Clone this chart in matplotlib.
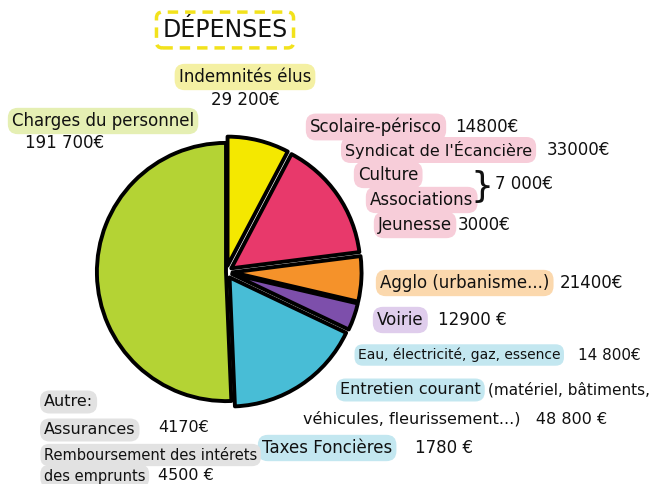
import matplotlib
matplotlib.use("Agg")
import matplotlib.pyplot as plt

# ---- data ----
slice_names = ["Indemnités élus", "Scolaire, Syndicat, Culture, Jeunesse", "Agglo", "Voirie",
               "Eau, Entretien, Taxes", "Charges du personnel"]
slice_values = [29200, 14800 + 33000 + 7000 + 3000, 21400, 12900, 14800 + 48800 + 1780, 191700]
slice_colors = ["#f4e800", "#e8396b", "#f5922a", "#7d4fab", "#48bdd6", "#b4d334"]
slice_explode = [0.05, 0.05, 0.05, 0.05, 0.05, 0.0]

W, H = 656, 484
fig = plt.figure(figsize=(W / 100, H / 100), dpi=100)
fig.patch.set_facecolor("white")

# pie axes
cx, cy, half = 226, 272, 142
ax = fig.add_axes([(cx - half) / W, (H - cy - half) / H, 2 * half / W, 2 * half / H])
ax.pie(slice_values, colors=slice_colors, startangle=90, counterclock=False,
       explode=slice_explode,
       wedgeprops=dict(edgecolor="black", linewidth=2.8, joinstyle="round"))
ax.set_xlim(-1.1, 1.1)
ax.set_ylim(-1.1, 1.1)
ax.set_aspect("equal")
ax.axis("off")

FONT = "DejaVu Sans"


def T(x, y, s, bg=None, size=12, ha="left", **kw):
    bbox = None
    if bg is not None:
        bbox = dict(boxstyle="round,pad=0.25,rounding_size=0.6", fc=bg, ec="none")
    fig.text(x / W, 1 - y / H, s, ha=ha, va="center", fontsize=size, family=FONT,
             color="#111111", bbox=bbox, **kw)


# title with dashed yellow box
fig.text(225 / W, 1 - 30 / H, "DÉPENSES", ha="center", va="center", fontsize=17,
         family=FONT, color="#111111",
         bbox=dict(boxstyle="round,pad=0.25", fc="white", ec="#f2e21c", lw=2.5, ls=(0, (3, 2))))

GREEN_BG = "#e5efb3"
YELLOW_BG = "#f4f0a3"
PINK_BG = "#f7cdd9"
ORANGE_BG = "#fbd8ad"
PURPLE_BG = "#dfcdec"
CYAN_BG = "#c3e7f0"
GREY_BG = "#e2e2e2"

T(245, 77, "Indemnités élus", YELLOW_BG, ha="center")
T(245, 100, "29 200€", ha="center")

T(12, 121, "Charges du personnel", GREEN_BG)
T(25, 143, "191 700€")

T(310, 127, "Scolaire-périsco", PINK_BG)
T(455, 127, "14800€")
T(345, 150, "Syndicat de l'Écancière", PINK_BG, size=11.5)
T(547, 150, "33000€")
T(358, 175, "Culture", PINK_BG)
T(370, 200, "Associations", PINK_BG)
T(470, 187, "}", size=26)
T(495, 184, "7 000€")
T(378, 225, "Jeunesse", PINK_BG)
T(458, 225, "3000€")

T(380, 283, "Agglo (urbanisme...)", ORANGE_BG)
T(560, 283, "21400€")

T(377, 320, "Voirie", PURPLE_BG)
T(438, 320, "12900 €")

T(358, 355, "Eau, électricité, gaz, essence", CYAN_BG, size=10)
T(578, 355, "14 800€", size=11)
T(340, 390, "Entretien courant", CYAN_BG, size=11.5)
T(488, 390, "(matériel, bâtiments,", size=11)
T(303, 419, "véhicules, fleurissement...)   48 800 €", size=11.5)

T(262, 448, "Taxes Foncières", CYAN_BG)
T(415, 448, "1780 €")

T(44, 402, "Autre:", GREY_BG, size=11.5)
T(44, 430, "Assurances", GREY_BG, size=11.5)
T(158, 427, "4170€", size=11.5)
T(44, 455, "Remboursement des intérets", GREY_BG, size=10.5)
T(44, 476, "des emprunts", GREY_BG, size=10.5)
T(158, 476, "4500 €", size=11.5)

fig.savefig("out.png", dpi=100, facecolor="white")
